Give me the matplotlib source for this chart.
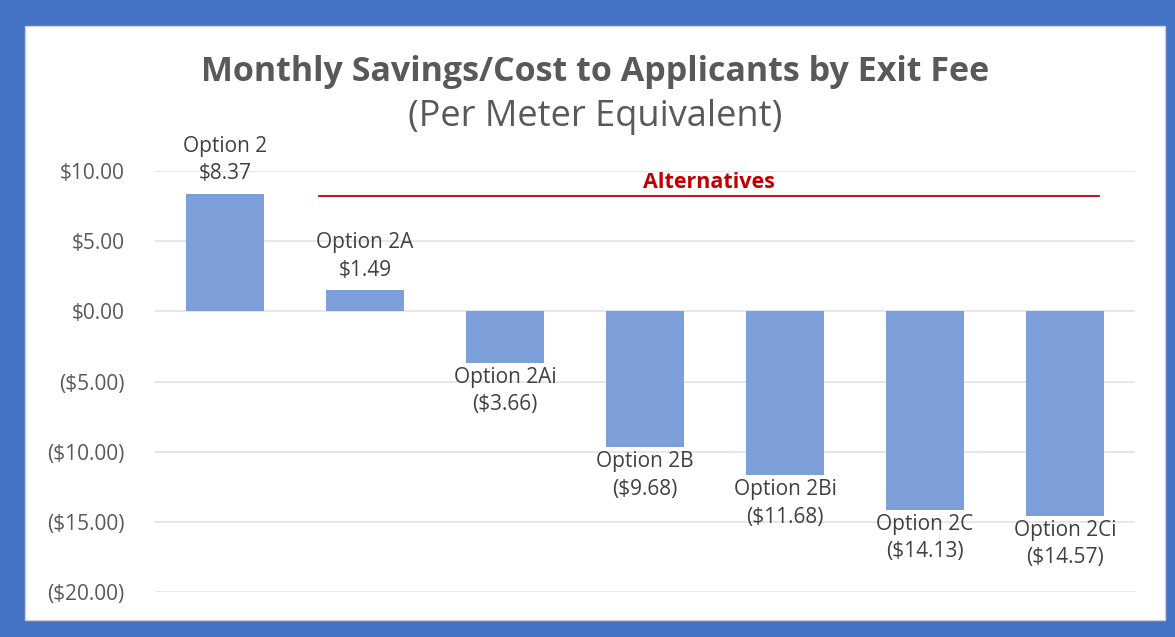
import numpy as np
import matplotlib.pyplot as plt
from matplotlib.patches import Rectangle
from matplotlib.ticker import FuncFormatter

plt.rcParams['font.family'] = ['Open Sans', 'DejaVu Sans']

# data
options = ['Option 2', 'Option 2A', 'Option 2Ai', 'Option 2B', 'Option 2Bi', 'Option 2C', 'Option 2Ci']
values = [8.37, 1.49, -3.66, -9.68, -11.68, -14.13, -14.57]
yticks = [10, 5, 0, -5, -10, -15, -20]

W, H = 1175, 637
fig = plt.figure(figsize=(W / 100, H / 100), dpi=100)

# blue frame with white panel
fig.patches.append(Rectangle((0, 0), 1, 1, transform=fig.transFigure, color='#4472C4', zorder=-10))
fig.patches.append(Rectangle((25 / W, 17 / H), (1165 - 25) / W, (620 - 26) / H,
                             transform=fig.transFigure, facecolor='white', edgecolor='#D0D0D0',
                             lw=1, zorder=-9))

ax = fig.add_axes([155 / W, 45 / H, (1135 - 155) / W, (592 - 171) / H])
ax.set_facecolor('none')

x = np.arange(len(options))
bars = ax.bar(x, values, width=0.557, color='#7C9FD9', zorder=3)

ax.set_xlim(-0.5, len(options) - 0.5)
ax.set_ylim(-20, 10)
ax.set_yticks(yticks)


def money(v, pos=None):
    if v < 0:
        return '(${:,.2f})'.format(-v)
    return '${:,.2f}'.format(v)


ax.yaxis.set_major_formatter(FuncFormatter(money))
ax.grid(axis='y', color='#E3E3E3', lw=1.2, zorder=0)
ax.tick_params(axis='y', length=0, pad=22, labelsize=15, labelcolor='#595959')
ax.tick_params(axis='x', length=0, labelbottom=False)
for s in ax.spines.values():
    s.set_visible(False)

# data labels
for xi, v, name in zip(x, values, options):
    txt = name + '\n' + money(v)
    if v >= 0:
        ax.annotate(txt, (xi, v), xytext=(0, 7), textcoords='offset points',
                    ha='center', va='bottom', fontsize=15, color='#404040',
                    linespacing=1.4, clip_on=False)
    else:
        ax.annotate(txt, (xi, v), xytext=(0, -3), textcoords='offset points',
                    ha='center', va='top', fontsize=15, color='#404040',
                    linespacing=1.4, clip_on=False)

# "Alternatives" bracket line
ax.plot([0.671, 6.243], [8.21, 8.21], color='#C00000', lw=1.3, zorder=4, clip_on=False)
ax.text((0.671 + 6.243) / 2, 8.4, 'Alternatives', color='#C00000', fontsize=15.5,
        fontweight='bold', ha='center', va='bottom')

fig.text(595 / W, 1 - 72 / H, 'Monthly Savings/Cost to Applicants by Exit Fee',
         ha='center', va='center', fontsize=24.5, fontweight='bold', color='#595959')
fig.text(595 / W, 1 - 117 / H, '(Per Meter Equivalent)',
         ha='center', va='center', fontsize=26, color='#595959')

fig.savefig('out.png', dpi=100)
